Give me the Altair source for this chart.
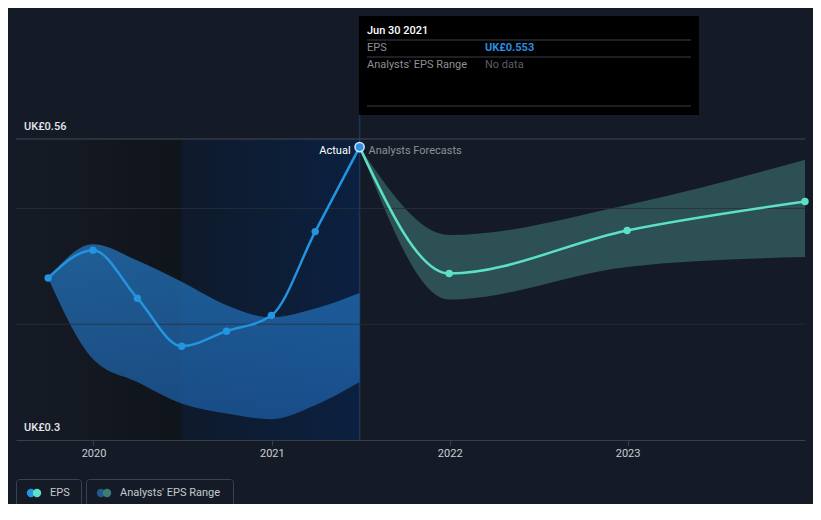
import altair as alt
import pandas as pd

FONT = "Roboto"
BG = "#151b26"

# ---- data ----
actual_dates = ["2019-09-30", "2019-12-31", "2020-03-31", "2020-06-30",
                "2020-09-30", "2020-12-31", "2021-03-31", "2021-06-30"]
actual_eps = [0.440, 0.464, 0.4225, 0.381, 0.394, 0.4075, 0.480, 0.553]
actual_low = [0.440, 0.370, 0.350, 0.3315, 0.3228, 0.318, 0.330, 0.350]
actual_high = [0.440, 0.469, 0.455, 0.4366, 0.4164, 0.406, 0.4136, 0.427]

fc_dates = ["2021-06-30", "2021-12-31", "2022-12-31", "2023-12-31"]
fc_eps = [0.553, 0.4438, 0.481, 0.506]
fc_low = [0.553, 0.4213, 0.4495, 0.458]
fc_high = [0.553, 0.477, 0.503, 0.542]

grid_values = [0.4, 0.5]
top_value = [0.56]
y_labels = ["UK£0.56", "UK£0.3"]
y_label_values = [0.56, 0.3]
region_starts = ["2019-07-26", "2020-06-30"]
region_ends = ["2020-06-30", "2021-06-30"]
hover_date = ["2021-06-30"]
tooltip_title = "Jun 30 2021"
tooltip_rows = ["EPS", "Analysts' EPS Range"]
tooltip_vals = ["UK£0.553", "No data"]
legend_labels = ["EPS", "Analysts' EPS Range"]

W, H = 789, 301

x_scale = alt.Scale(type="utc", domain=[alt.DateTime(year=2019, month=7, date=26, utc=True),
                                        alt.DateTime(year=2023, month=12, date=31, utc=True)])
y_scale = alt.Scale(domain=[0.3, 0.56], zero=False, nice=False)

x_axis = alt.Axis(
    values=[alt.DateTime(year=y, month=1, date=1, utc=True) for y in (2020, 2021, 2022, 2023)],
    format="%Y", title=None, grid=False, labelColor="#c9cdd3", labelFont=FONT,
    labelFontSize=11, labelPadding=2, tickColor="#3a404b", tickSize=5,
    domainColor="#3a404b", domainWidth=1)


def X(field):
    return alt.X(f"{field}:T", scale=x_scale, axis=x_axis)


def Y(field):
    return alt.Y(f"{field}:Q", scale=y_scale, axis=None)


actual = pd.DataFrame({"date": actual_dates, "eps": actual_eps, "low": actual_low, "high": actual_high})
fc = pd.DataFrame({"date": fc_dates, "eps": fc_eps, "low": fc_low, "high": fc_high})

layers = []

# background regions
regions = pd.DataFrame({"s": region_starts, "e": region_ends})
left_grad = alt.Gradient(gradient="linear", x1=0, x2=1, y1=0, y2=0,
                         stops=[alt.GradientStop(color="#151b26", offset=0),
                                alt.GradientStop(color="#10141b", offset=1)])
blue_grad = alt.Gradient(gradient="linear", x1=0, x2=1, y1=0, y2=0,
                         stops=[alt.GradientStop(color="#0e1a2b", offset=0),
                                alt.GradientStop(color="#0b2040", offset=1)])
layers.append(alt.Chart(regions.iloc[[0]]).mark_rect(color=left_grad).encode(
    x=X("s"), x2="e:T", y=alt.value(0), y2=alt.value(H)))
layers.append(alt.Chart(regions.iloc[[1]]).mark_rect(color=blue_grad).encode(
    x=X("s"), x2="e:T", y=alt.value(0), y2=alt.value(H)))

# hover vertical line
layers.append(alt.Chart(pd.DataFrame({"d": hover_date})).mark_rule(color="#1b355a", strokeWidth=1.5).encode(
    x=X("d"), y=alt.value(-24), y2=alt.value(H)))

# bands
band_grad = alt.Gradient(gradient="linear", x1=0, x2=0, y1=0, y2=1,
                         stops=[alt.GradientStop(color="#2479c2", offset=0),
                                alt.GradientStop(color="#1d5fa8", offset=1)])
layers.append(alt.Chart(actual).mark_area(interpolate="monotone", color=band_grad, opacity=0.72).encode(
    x=X("date"), y=Y("low"), y2="high:Q"))
layers.append(alt.Chart(fc).mark_area(interpolate="monotone", color="#3a716f", opacity=0.62).encode(
    x=X("date"), y=Y("low"), y2="high:Q"))

# grid lines
layers.append(alt.Chart(pd.DataFrame({"v": grid_values})).mark_rule(color="#2a303b", strokeWidth=1, opacity=0.8).encode(y=Y("v")))
layers.append(alt.Chart(pd.DataFrame({"v": top_value})).mark_rule(color="#444a55", strokeWidth=1).encode(y=Y("v")))

# lines
layers.append(alt.Chart(fc).mark_line(interpolate="monotone", color="#5ce0c6", strokeWidth=2.5).encode(
    x=X("date"), y=Y("eps")))
layers.append(alt.Chart(actual).mark_line(interpolate="monotone", color="#2394df", strokeWidth=2.5).encode(
    x=X("date"), y=Y("eps")))

# points
layers.append(alt.Chart(fc.iloc[1:]).mark_circle(color="#5ce0c6", size=55, opacity=1).encode(
    x=X("date"), y=Y("eps")))
layers.append(alt.Chart(actual.iloc[:-1]).mark_circle(color="#2394df", size=55, opacity=1).encode(
    x=X("date"), y=Y("eps")))
layers.append(alt.Chart(actual.iloc[[-1]]).mark_point(filled=True, fill="#2f8fe6", stroke="#cfe6ff",
                                                       strokeWidth=1.5, size=85, opacity=1).encode(
    x=X("date"), y=Y("eps")))

# Actual / Forecast labels
hd = pd.DataFrame({"d": hover_date, "v": top_value})
layers.append(alt.Chart(hd.assign(t=["Actual"])).mark_text(
    align="right", baseline="middle", dx=-9, dy=12, color="#ffffff", font=FONT, fontSize=11).encode(
    x=X("d"), y=Y("v"), text="t:N"))
layers.append(alt.Chart(hd.assign(t=["Analysts Forecasts"])).mark_text(
    align="left", baseline="middle", dx=9, dy=12, color="#8b9098", font=FONT, fontSize=11).encode(
    x=X("d"), y=Y("v"), text="t:N"))

# y labels
yl = pd.DataFrame({"t": y_labels, "v": y_label_values})
layers.append(alt.Chart(yl).mark_text(align="left", baseline="middle", dy=-12.5, color="#e3e6ea",
                                      font=FONT, fontSize=11, fontWeight=500).encode(
    x=alt.value(8), y=Y("v"), text="t:N"))


def label(text, x, y, color, size=11, weight="normal", align="left"):
    return alt.Chart(pd.DataFrame({"t": [text]})).mark_text(
        align=align, baseline="middle", color=color, fontSize=size, fontWeight=weight, font=FONT).encode(
        x=alt.value(x), y=alt.value(y), text="t:N")


def box(x, x2, y, y2, fill=None, stroke=None, radius=0):
    kw = {}
    if fill is not None:
        kw["fill"] = fill
    else:
        kw["fillOpacity"] = 0
    if stroke is not None:
        kw["stroke"] = stroke
        kw["strokeWidth"] = 1
    return alt.Chart(pd.DataFrame({"a": [0]})).mark_rect(cornerRadius=radius, **kw).encode(
        x=alt.value(x), x2=alt.value(x2), y=alt.value(y), y2=alt.value(y2))


def hline(x, x2, y, color):
    return alt.Chart(pd.DataFrame({"a": [0]})).mark_rule(color=color, strokeWidth=1).encode(
        x=alt.value(x), x2=alt.value(x2), y=alt.value(y))


def dot(x, y, color, size=70):
    return alt.Chart(pd.DataFrame({"a": [0]})).mark_circle(color=color, size=size, opacity=1).encode(
        x=alt.value(x), y=alt.value(y))


# tooltip box
layers.append(box(343, 683, -123, -24, fill="#000000"))
layers.append(label(tooltip_title, 351, -108, "#ffffff", 11, 500))
layers.append(hline(351, 675, -99, "#3b3f45"))
layers.append(label(tooltip_rows[0], 351, -91, "#8c9097"))
layers.append(label(tooltip_vals[0], 469, -91, "#2a8fe0", 11, "bold"))
layers.append(hline(351, 675, -82, "#3b3f45"))
layers.append(label(tooltip_rows[1], 351, -74, "#8c9097"))
layers.append(label(tooltip_vals[1], 469, -74, "#5b5f66"))
layers.append(hline(351, 675, -33, "#3b3f45"))

# legend
layers.append(box(0.5, 65.5, 340.5, 367.5, stroke="#3c424d", radius=3))
layers.append(box(70.5, 217.5, 340.5, 367.5, stroke="#3c424d", radius=3))
layers.append(dot(15, 354, "#2394df"))
layers.append(dot(21, 354, "#5ce0c6"))
layers.append(dot(85, 354, "#1f5a8c"))
layers.append(dot(91, 354, "#3d7d78"))
layers.append(label(legend_labels[0], 34, 354, "#c5c9cf"))
layers.append(label(legend_labels[1], 104, 354, "#c5c9cf"))

chart = alt.layer(*layers).properties(
    width=W, height=H,
    padding={"left": 8, "top": 131, "right": 8, "bottom": 64},
    autosize=alt.AutoSizeParams(type="none"),
    background=BG,
).configure_view(stroke=None)

chart.save("out.html", embed_options={"renderer": "svg", "actions": False})
